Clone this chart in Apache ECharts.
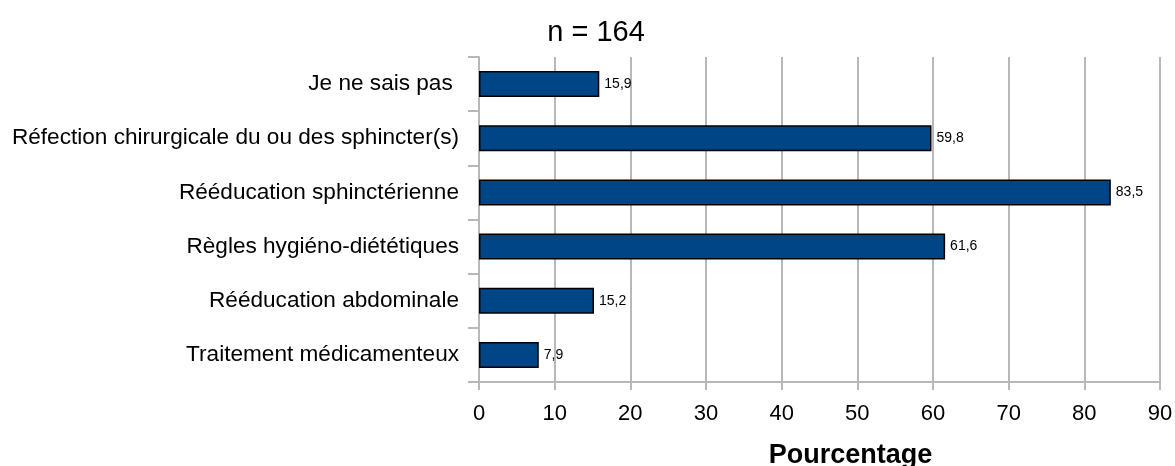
<!DOCTYPE html>
<html><head><meta charset="utf-8">
<script src="https://cdn.jsdelivr.net/npm/echarts@6/dist/echarts.min.js"></script>
<style>html,body{margin:0;padding:0;background:#fff}#c{width:1175px;height:466px}</style>
</head><body><div id="c"></div>
<script>
var categories = ["Traitement médicamenteux","Rééducation abdominale","Règles hygiéno-diététiques","Rééducation sphinctérienne","Réfection chirurgicale du ou des sphincter(s)","Je ne sais pas "];
var values = [7.9, 15.2, 61.6, 83.5, 59.8, 15.9];
var xTicks = [0,10,20,30,40,50,60,70,80,90];
var titleText = "n = 164";
var axisName = "Pourcentage";
var font = "'Liberation Sans', Arial, sans-serif";
var chart = echarts.init(document.getElementById('c'), null, {renderer:'canvas'});
chart.setOption({
  animation:false,
  backgroundColor:'#fff',
  title:{text:titleText,left:591,top:13,textAlign:'center',textStyle:{fontFamily:font,fontWeight:'normal',fontSize:29,color:'#000'}},
  grid:{left:479,right:15,top:57,bottom:84,containLabel:false,outerBoundsMode:'none'},
  xAxis:{type:'value',min:xTicks[0],max:xTicks[xTicks.length-1],interval:10,
    name:axisName,nameLocation:'middle',nameGap:60,
    nameTextStyle:{fontFamily:font,fontWeight:'bold',fontSize:27,color:'#000',padding:[0,0,0,62]},
    axisLine:{show:true,lineStyle:{color:'#b8b8b8',width:2}},
    axisTick:{show:true,length:8,lineStyle:{color:'#b8b8b8',width:2}},
    axisLabel:{fontFamily:font,fontSize:22,color:'#000',margin:21},
    splitLine:{show:true,lineStyle:{color:'#b8b8b8',width:2}}},
  yAxis:{type:'category',data:categories,
    axisLine:{show:true,lineStyle:{color:'#b8b8b8',width:2}},
    axisTick:{show:true,length:11,lineStyle:{color:'#b8b8b8',width:2}},
    axisLabel:{fontFamily:font,fontSize:22.6,color:'#000',margin:20},
    splitLine:{show:false}},
  series:[{type:'bar',data:values,barWidth:'48%',
    itemStyle:{color:'#004586',borderColor:'#000',borderWidth:1.5},
    label:{show:true,position:'right',distance:5,fontFamily:font,fontSize:14,color:'#000',
      formatter:function(p){return String(p.value).replace('.',',');}}}]
});
</script></body></html>
